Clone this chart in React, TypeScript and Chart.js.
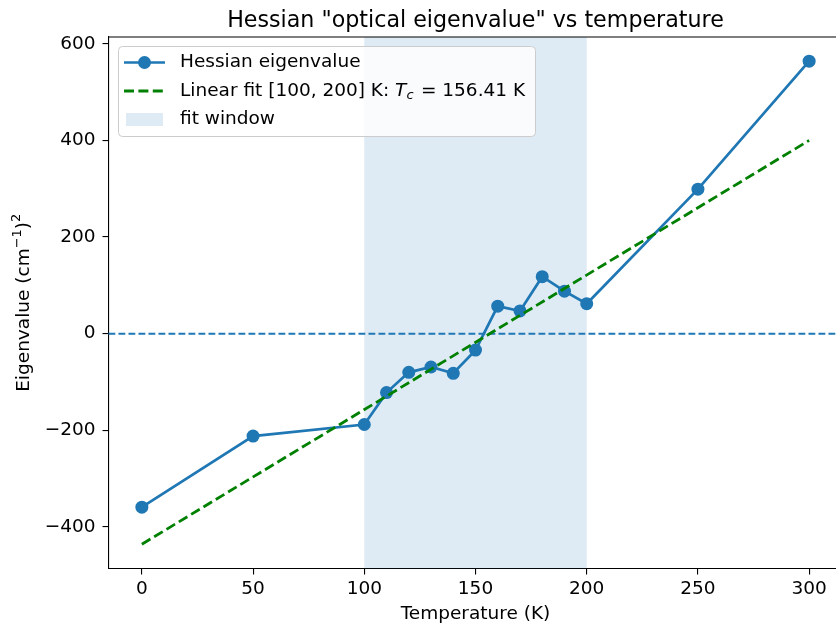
import React, { useEffect, useRef } from "react";
import { Chart, registerables } from "chart.js";

Chart.register(...registerables);

// ---- data ----
const temperatures = [0, 50, 100, 110, 120, 130, 140, 150, 160, 170, 180, 190, 200, 250, 300];
const eigenvalues = [-359, -212, -188, -122, -80, -69, -82, -34, 57, 47, 118, 88, 62, 299, 564];
const fitX = [0, 300];
const fitY = [-435.8, 400];
const fitWindow = [100, 200];
const zeroLineY = 0;
const xTicks = [0, 50, 100, 150, 200, 250, 300];
const yTicks = [-400, -200, 0, 200, 400, 600];
const xRange = [-15, 315];
const yRange = [-486, 614];

const titleText = 'Hessian "optical eigenvalue" vs temperature';
const xLabel = "Temperature (K)";
const yLabelParts = ["Eigenvalue (cm", "\u22121", ")", "2"];
const legendLabels = ["Hessian eigenvalue", "Linear fit [100, 200] K: ", "fit window"];
const tcValueText = " = 156.41 K";

const C0 = "#1f77b4";
const SPAN = "rgba(31,119,180,0.15)";
const FONT = "'DejaVu Sans', sans-serif";
const FS = 18.5;
const CW = 849;

const fmt = (v: number) => (v < 0 ? "\u2212" + Math.abs(v) : String(v));

const extrasPlugin = {
  id: "extras",
  beforeDatasetsDraw(chart: any) {
    const { ctx, chartArea, scales } = chart;
    const x0 = scales.x.getPixelForValue(fitWindow[0]);
    const x1 = scales.x.getPixelForValue(fitWindow[1]);
    ctx.save();
    ctx.fillStyle = SPAN;
    ctx.fillRect(x0, chartArea.top, x1 - x0, chartArea.bottom - chartArea.top);
    // zero line
    const yz = scales.y.getPixelForValue(zeroLineY);
    ctx.strokeStyle = C0;
    ctx.lineWidth = 2;
    ctx.setLineDash([6.8, 3.2]);
    ctx.beginPath();
    ctx.moveTo(chartArea.left, yz);
    ctx.lineTo(chartArea.right, yz);
    ctx.stroke();
    ctx.restore();
  },
  afterDraw(chart: any) {
    const { ctx, chartArea } = chart;
    ctx.save();
    // top & right spines
    ctx.strokeStyle = "#000";
    ctx.lineWidth = 1.1;
    ctx.setLineDash([]);
    ctx.beginPath();
    ctx.moveTo(chartArea.left, chartArea.top);
    ctx.lineTo(chartArea.right, chartArea.top);
    ctx.lineTo(chartArea.right, chartArea.bottom);
    ctx.stroke();

    // title
    ctx.fillStyle = "#000";
    ctx.font = `22.2px ${FONT}`;
    ctx.textAlign = "center";
    ctx.textBaseline = "alphabetic";
    ctx.fillText(titleText, (chartArea.left + chartArea.right) / 2, 26.5);

    // y label (rotated, with superscripts)
    ctx.save();
    ctx.translate(28.5, (chartArea.top + chartArea.bottom) / 2);
    ctx.rotate(-Math.PI / 2);
    ctx.textAlign = "left";
    ctx.textBaseline = "alphabetic";
    const supFont = `13px ${FONT}`;
    const mainFont = `${FS}px ${FONT}`;
    ctx.font = mainFont;
    const w0 = ctx.measureText(yLabelParts[0]).width;
    const w2 = ctx.measureText(yLabelParts[2]).width;
    ctx.font = supFont;
    const w1 = ctx.measureText(yLabelParts[1]).width;
    const w3 = ctx.measureText(yLabelParts[3]).width;
    let px = -(w0 + w1 + w2 + w3) / 2;
    ctx.font = mainFont;
    ctx.fillText(yLabelParts[0], px, 0);
    px += w0;
    ctx.font = supFont;
    ctx.fillText(yLabelParts[1], px, -7.5);
    px += w1;
    ctx.font = mainFont;
    ctx.fillText(yLabelParts[2], px, 0);
    px += w2;
    ctx.font = supFont;
    ctx.fillText(yLabelParts[3], px, -8.5);
    ctx.restore();

    // legend box
    const bx = 118.5, by = 46.5, bw = 417, bh = 90, r = 4;
    ctx.beginPath();
    ctx.moveTo(bx + r, by);
    ctx.lineTo(bx + bw - r, by);
    ctx.quadraticCurveTo(bx + bw, by, bx + bw, by + r);
    ctx.lineTo(bx + bw, by + bh - r);
    ctx.quadraticCurveTo(bx + bw, by + bh, bx + bw - r, by + bh);
    ctx.lineTo(bx + r, by + bh);
    ctx.quadraticCurveTo(bx, by + bh, bx, by + bh - r);
    ctx.lineTo(bx, by + r);
    ctx.quadraticCurveTo(bx, by, bx + r, by);
    ctx.closePath();
    ctx.fillStyle = "rgba(255,255,255,0.8)";
    ctx.fill();
    ctx.strokeStyle = "#cccccc";
    ctx.lineWidth = 1;
    ctx.stroke();

    const lx0 = 124, lx1 = 165, tx = 180;
    const rows = [62.5, 91, 119.5];
    // row 1
    ctx.strokeStyle = C0;
    ctx.lineWidth = 2.7;
    ctx.beginPath();
    ctx.moveTo(lx0, rows[0]);
    ctx.lineTo(lx1, rows[0]);
    ctx.stroke();
    ctx.fillStyle = C0;
    ctx.beginPath();
    ctx.arc((lx0 + lx1) / 2, rows[0], 6.5, 0, Math.PI * 2);
    ctx.fill();
    // row 2
    ctx.strokeStyle = "#008000";
    ctx.lineWidth = 2.8;
    ctx.setLineDash([10, 4.4]);
    ctx.beginPath();
    ctx.moveTo(lx0, rows[1]);
    ctx.lineTo(lx1, rows[1]);
    ctx.stroke();
    ctx.setLineDash([]);
    // row 3
    ctx.fillStyle = SPAN;
    ctx.fillRect(126, rows[2] - 6.5, 37, 13);

    ctx.fillStyle = "#000";
    ctx.textAlign = "left";
    ctx.textBaseline = "middle";
    ctx.font = mainFont;
    ctx.fillText(legendLabels[0], tx, rows[0]);
    ctx.fillText(legendLabels[2], tx, rows[2]);
    ctx.fillText(legendLabels[1], tx, rows[1]);
    let cx = tx + ctx.measureText(legendLabels[1]).width;
    ctx.font = `italic ${FS}px ${FONT}`;
    ctx.fillText("T", cx, rows[1]);
    cx += ctx.measureText("T").width;
    ctx.font = `italic 13px ${FONT}`;
    ctx.fillText("c", cx, rows[1] + 4.5);
    cx += ctx.measureText("c").width + 1.5;
    ctx.font = mainFont;
    ctx.fillText(tcValueText, cx, rows[1]);
    ctx.restore();
  },
};

export default function App() {
  const ref = useRef<HTMLCanvasElement>(null);
  useEffect(() => {
    document.body.style.margin = "0";
    const canvas = ref.current!;
    const chart = new Chart(canvas, {
      type: "line",
      data: {
        datasets: [
          {
            label: "Hessian eigenvalue",
            data: temperatures.map((t, i) => ({ x: t, y: eigenvalues[i] })),
            borderColor: C0,
            backgroundColor: C0,
            borderWidth: 2.7,
            pointRadius: 6.5,
            pointBorderWidth: 0,
            pointBackgroundColor: C0,
            order: 1,
          },
          {
            label: "Linear fit",
            data: fitX.map((t, i) => ({ x: t, y: fitY[i] })),
            borderColor: "#008000",
            borderWidth: 2.8,
            borderDash: [10, 4.4],
            pointRadius: 0,
            order: 0,
          },
        ],
      },
      plugins: [extrasPlugin],
      options: {
        responsive: false,
        maintainAspectRatio: false,
        animation: false,
        devicePixelRatio: 1,
        layout: { padding: { top: 37, right: 0, left: 0, bottom: 0 } },
        plugins: { legend: { display: false }, tooltip: { enabled: false }, title: { display: false } },
        scales: {
          x: {
            type: "linear",
            min: xRange[0],
            max: xRange[1],
            afterBuildTicks: (s: any) => {
              s.ticks = xTicks.map((v) => ({ value: v }));
            },
            afterFit: (s: any) => {
              s.height = 62.5;
              s.paddingLeft = 0;
              s.paddingRight = 0;
            },
            grid: { display: true, drawOnChartArea: false, drawTicks: true, tickLength: 6, color: "#000", lineWidth: 1.1 },
            border: { display: true, color: "#000", width: 1.1 },
            ticks: { color: "#000", font: { family: FONT, size: FS }, padding: 4, callback: (v: any) => fmt(Number(v)), maxRotation: 0, autoSkip: false },
            title: { display: true, text: xLabel, color: "#000", font: { family: FONT, size: FS }, padding: { top: 0, bottom: 6 } },
          },
          y: {
            type: "linear",
            min: yRange[0],
            max: yRange[1],
            afterBuildTicks: (s: any) => {
              s.ticks = yTicks.map((v) => ({ value: v }));
            },
            afterFit: (s: any) => {
              s.width = 108.5;
              s.paddingTop = 0;
              s.paddingBottom = 0;
            },
            grid: { display: true, drawOnChartArea: false, drawTicks: true, tickLength: 6, color: "#000", lineWidth: 1.1 },
            border: { display: true, color: "#000", width: 1.1 },
            ticks: { color: "#000", font: { family: FONT, size: FS }, padding: 7, callback: (v: any) => fmt(Number(v)), autoSkip: false },
            title: { display: false },
          },
        },
      },
    });
    return () => chart.destroy();
  }, []);
  return (
    <div style={{ position: "fixed", left: 0, top: 0, width: 836, height: 631, overflow: "hidden", background: "#fff" }}>
      <div style={{ width: 870, height: 631 }}>
        <canvas ref={ref} width={CW} height={631} style={{ display: "block", width: CW, height: 631 }} />
      </div>
    </div>
  );
}
